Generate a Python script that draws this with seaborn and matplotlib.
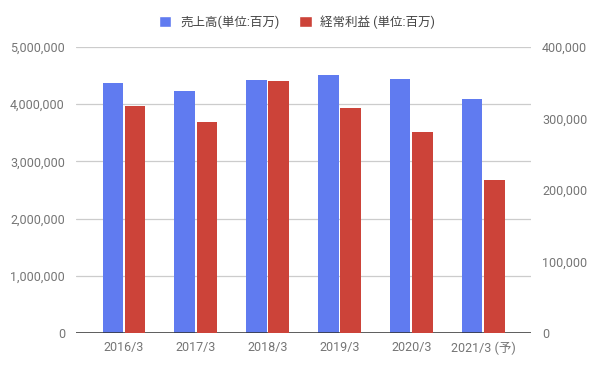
import pandas as pd
import numpy as np
import matplotlib.pyplot as plt
import seaborn as sns
from matplotlib.patches import Patch
from matplotlib.ticker import FuncFormatter

# data
years = ['2016/3', '2017/3', '2018/3', '2019/3', '2020/3', '2021/3 (予)']
sales = [4365000, 4230000, 4420000, 4510000, 4440000, 4090000]
profit = [317500, 295000, 352500, 315000, 281000, 214000]
sales_label = '売上高(単位:百万)'
profit_label = '経常利益 (単位:百万)'

blue = '#607BF0'
red = '#CC4339'
grey = '#757575'

sns.set_theme(style='white')
plt.rcParams['font.family'] = ['Roboto', 'Noto Sans CJK JP', 'DejaVu Sans']

# long table; each axis only gets its own series, the other hue level is NaN
df_left = pd.DataFrame({'year': years * 2,
                        'series': [sales_label] * 6 + [profit_label] * 6,
                        'value': sales + [np.nan] * 6})
df_right = pd.DataFrame({'year': years * 2,
                         'series': [sales_label] * 6 + [profit_label] * 6,
                         'value': [np.nan] * 6 + profit})
hue_order = [sales_label, profit_label]
pal = {sales_label: blue, profit_label: red}

fig = plt.figure(figsize=(5.94, 3.67), dpi=100)
ax = fig.add_axes([0.128, 0.0926, 0.766, 0.7794])
ax2 = ax.twinx()

sns.barplot(data=df_left, x='year', y='value', hue='series', hue_order=hue_order,
            palette=pal, width=0.62, gap=0.07, dodge=True, ax=ax, legend=False,
            errorbar=None, saturation=1, linewidth=0)
sns.barplot(data=df_right, x='year', y='value', hue='series', hue_order=hue_order,
            palette=pal, width=0.62, gap=0.07, dodge=True, ax=ax2, legend=False,
            errorbar=None, saturation=1, linewidth=0)

ax.set_xlim(-0.668, 5.668)
ax.set_ylim(0, 5000000)
ax2.set_ylim(0, 400000)
ax.set_yticks(np.arange(0, 5000001, 1000000))
ax2.set_yticks(np.arange(0, 400001, 100000))
fmt = FuncFormatter(lambda v, p: f'{int(v):,}')
ax.yaxis.set_major_formatter(fmt)
ax2.yaxis.set_major_formatter(fmt)

ax.grid(axis='y', color='#cccccc', linewidth=0.9)
ax.set_axisbelow(True)
for a in (ax, ax2):
    for s in a.spines.values():
        s.set_visible(False)
    a.set_xlabel('')
    a.set_ylabel('')
    a.tick_params(length=0, labelsize=9, colors=grey)
ax.tick_params(axis='x', pad=6)
ax.tick_params(axis='y', pad=8)
ax2.tick_params(axis='y', pad=8)
ax.axhline(0, color='#333333', linewidth=1.1, zorder=5)

handles = [Patch(facecolor=blue, label=sales_label),
           Patch(facecolor=red, label=profit_label)]
leg = fig.legend(handles=handles, loc='center', bbox_to_anchor=(0.5, 0.94), ncol=2,
                 frameon=False, fontsize=9, handlelength=1.0, handleheight=1.0,
                 columnspacing=1.6, handletextpad=0.7)
for t in leg.get_texts():
    t.set_color('#444444')

plt.savefig('out.png', dpi=100)
